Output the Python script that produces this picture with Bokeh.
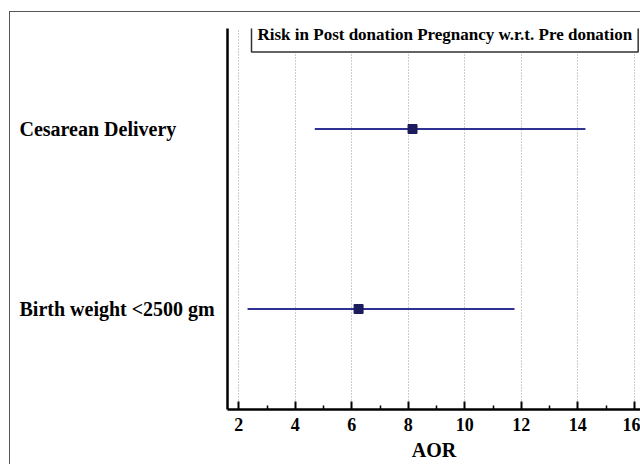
from bokeh.plotting import figure
from bokeh.layouts import row
from bokeh.models import (FactorRange, Range1d, FixedTicker, Label,
                          ColumnDataSource, InlineStyleSheet)
from bokeh.core.properties import value
from bokeh.embed import file_html
from bokeh.resources import INLINE

# ---- data ----
categories = ["Birth weight <2500 gm", "Cesarean Delivery"]
aor = [6.24, 8.15]
lower = [2.31, 4.69]
upper = [11.76, 14.27]
x_ticks = [2, 4, 6, 8, 10, 12, 14, 16]
x_minor = [3, 5, 7, 9, 11, 13, 15]
title_text = "Risk in Post donation Pregnancy w.r.t. Pre donation"
x_label = "AOR"

SERIF = "Liberation Serif"

source = ColumnDataSource(dict(cat=categories, aor=aor, lo=lower, hi=upper))
y_range = FactorRange(factors=categories, range_padding=0.0585,
                      range_padding_units="absolute")

# ---------- left panel: category names, left aligned ----------
pl = figure(width=225, height=464, output_backend="svg", toolbar_location=None,
            x_range=Range1d(0, 225), y_range=y_range,
            x_axis_location=None, y_axis_location=None,
            min_border_left=0, min_border_right=0, min_border_top=28,
            min_border_bottom=55)
pl.outline_line_color = None
pl.xgrid.grid_line_color = None
pl.ygrid.grid_line_color = None
pl.background_fill_color = "white"
pl.border_fill_color = "white"
pl.text(x=19, y="cat", text="cat", source=source,
        text_font=value(SERIF), text_font_style="bold", text_font_size="20px",
        text_baseline="middle", text_align="left", text_color="black")
pl.stylesheets = [InlineStyleSheet(css=(
    ":host::before { content: ''; position: absolute; left: 9px; top: 11px; "
    "right: 0; bottom: 0; border-left: 1px solid #555; border-top: 1px solid #555; "
    "z-index: 100; pointer-events: none; }"))]

# ---------- main plot ----------
p = figure(width=415, height=464, output_backend="svg", toolbar_location=None,
           x_range=Range1d(1.6, 16.22), y_range=y_range,
           min_border_left=2, min_border_right=0, min_border_top=28,
           min_border_bottom=55)
p.outline_line_color = None
p.background_fill_color = "white"
p.border_fill_color = "white"
p.stylesheets = [InlineStyleSheet(css=(
    ":host::before { content: ''; position: absolute; left: 0; top: 11px; "
    "right: 0; bottom: 0; border-top: 1px solid #555; "
    "z-index: 100; pointer-events: none; }"))]

# grid
p.ygrid.grid_line_color = None
p.xgrid.grid_line_color = "#9a9a9a"
p.xgrid.grid_line_dash = "1 2"
p.xgrid.grid_line_width = 1

# x axis
xa = p.xaxis[0]
xa.ticker = FixedTicker(ticks=x_ticks, minor_ticks=x_minor)
xa.axis_line_color = "black"
xa.axis_line_width = 2.5
xa.major_tick_in = 8
xa.major_tick_out = 0
xa.major_tick_line_width = 2
xa.major_tick_line_color = "black"
xa.minor_tick_in = 4
xa.minor_tick_out = 0
xa.minor_tick_line_width = 1.5
xa.minor_tick_line_color = "black"
xa.major_label_text_font = SERIF
xa.major_label_text_font_style = "bold"
xa.major_label_text_font_size = "18px"
xa.major_label_text_color = "black"
xa.major_label_standoff = 8
xa.axis_label = x_label
xa.axis_label_text_font = SERIF
xa.axis_label_text_font_style = "bold"
xa.axis_label_text_font_size = "20px"
xa.axis_label_text_color = "black"
xa.axis_label_standoff = 5

# y axis: plain line only (names are in the left panel)
ya = p.yaxis[0]
ya.axis_line_color = "black"
ya.axis_line_width = 2.5
ya.major_tick_line_color = None
ya.minor_tick_line_color = None
ya.major_tick_in = 0
ya.major_tick_out = 0
ya.minor_tick_in = 0
ya.minor_tick_out = 0
ya.major_label_standoff = 0
ya.major_label_text_font_size = "0px"
ya.major_label_text_color = None

# glyphs
p.segment(x0="lo", y0="cat", x1="hi", y1="cat", source=source,
          line_color="#2e3192", line_width=2.2)
p.scatter(x="aor", y="cat", marker="square", size=9, source=source,
          fill_color="#1c1c5c", line_color="#1c1c5c")

# title box
p.add_layout(Label(x=24, y=375, x_units="screen", y_units="screen", text=title_text,
                   text_font=SERIF, text_font_style="bold", text_font_size="17px",
                   text_baseline="middle", text_align="left", text_color="black",
                   border_line_color="#333333", border_line_width=1.5,
                   background_fill_color="white", padding=(6, 8)))

layout = row(pl, p)
open("out.html", "w").write(file_html(layout, INLINE))
